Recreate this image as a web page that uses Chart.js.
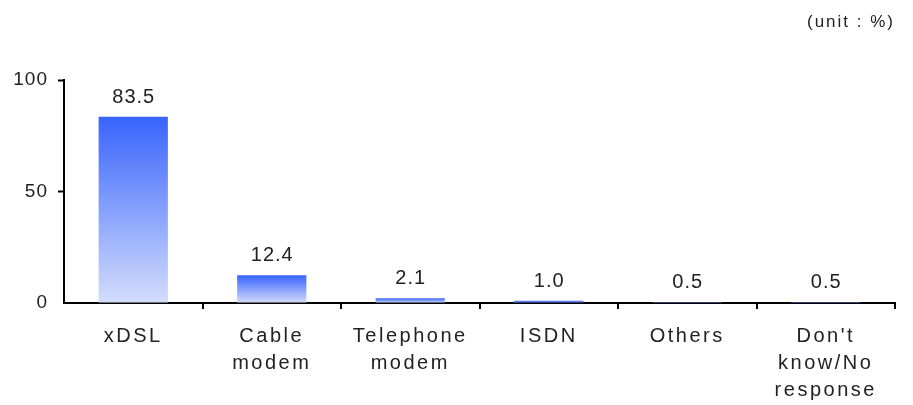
<!DOCTYPE html>
<html>
<head>
<meta charset="utf-8">
<script src="https://cdn.jsdelivr.net/npm/chart.js@4"></script>
<style>
  html, body { margin: 0; padding: 0; background: #fff; }
  #wrap { width: 913px; height: 405px; }
</style>
</head>
<body>
<div id="wrap"><canvas id="c" width="913" height="405"></canvas></div>
<script>
const categories = [["xDSL"], ["Cable", "modem"], ["Telephone", "modem"], ["ISDN"], ["Others"], ["Don't", "know/No", "response"]];
const values = [83.5, 12.4, 2.1, 1.0, 0.5, 0.5];
const valueLabels = ["83.5", "12.4", "2.1", "1.0", "0.5", "0.5"];
const yTicks = [0, 50, 100];
const unitText = "(unit : %)";

const FONT = "'Liberation Sans', Arial, sans-serif";

const topColor = "#3864fd";
const bottomColor = "#d4ddfb";

function barGradient(context) {
  const chart = context.chart;
  const { ctx, chartArea, scales } = chart;
  if (!chartArea) return topColor;
  const v = context.raw;
  const yTop = scales.y.getPixelForValue(v);
  const yBase = scales.y.getPixelForValue(0);
  if (yBase - yTop < 4) return "#5a7cf0";
  const g = ctx.createLinearGradient(0, yTop, 0, yBase);
  g.addColorStop(0, topColor);
  g.addColorStop(1, bottomColor);
  return g;
}

const spacingPlugin = {
  id: "spacing",
  beforeDraw(chart) { chart.ctx.letterSpacing = "2.5px"; }
};

const labelPlugin = {
  id: "valueLabels",
  afterDatasetsDraw(chart) {
    const { ctx } = chart;
    const meta = chart.getDatasetMeta(0);
    ctx.save();
    ctx.letterSpacing = "1px";
    ctx.font = "20px " + FONT;
    ctx.fillStyle = "#222";
    ctx.textAlign = "center";
    ctx.textBaseline = "alphabetic";
    meta.data.forEach((bar, i) => {
      ctx.fillText(valueLabels[i], bar.x + 0.5, bar.y - 14);
    });
    ctx.restore();
    ctx.letterSpacing = "1px"; // for y-axis labels drawn after datasets
  },
  afterDraw(chart) {
    const { ctx } = chart;
    ctx.save();
    ctx.letterSpacing = "2px";
    ctx.font = "17px " + FONT;
    ctx.fillStyle = "#222";
    ctx.textAlign = "right";
    ctx.textBaseline = "middle";
    ctx.fillText(unitText, 895, 22);
    ctx.restore();
  }
};

new Chart(document.getElementById("c"), {
  type: "bar",
  data: {
    labels: categories,
    datasets: [{
      data: values,
      backgroundColor: barGradient,
      borderWidth: 0,
      categoryPercentage: 1.0,
      barPercentage: 0.5
    }]
  },
  options: {
    responsive: false,
    animation: false,
    events: [],
    layout: { padding: { top: 80, right: 18, bottom: 0, left: 0 } },
    plugins: { legend: { display: false }, tooltip: { enabled: false }, title: { display: false } },
    scales: {
      x: {
        grid: {
          display: true, drawOnChartArea: false, offset: true,
          color: (c) => (c.index === 0 ? "rgba(0,0,0,0)" : "#000"),
          tickLength: 6, tickWidth: 2, lineWidth: 2
        },
        border: { display: true, color: "#000", width: 2 },
        ticks: { color: "#222", font: { family: FONT, size: 20, lineHeight: "27px" }, padding: 14, maxRotation: 0, autoSkip: false },
        afterFit(scale) { scale.height = 102; }
      },
      y: {
        min: 0, max: 100,
        afterBuildTicks(scale) { scale.ticks = yTicks.map(v => ({ value: v })); },
        grid: {
          display: true, drawOnChartArea: false,
          color: (c) => (c.tick && c.tick.value === 0 ? "rgba(0,0,0,0)" : "#000"),
          tickLength: 6, tickWidth: 2
        },
        border: { display: true, color: "#000", width: 2 },
        ticks: { z: 1, color: "#222", font: { family: FONT, size: 19 }, padding: 10 },
        afterFit(scale) { scale.width = 64; }
      }
    }
  },
  plugins: [spacingPlugin, labelPlugin]
});
</script>
</body>
</html>
